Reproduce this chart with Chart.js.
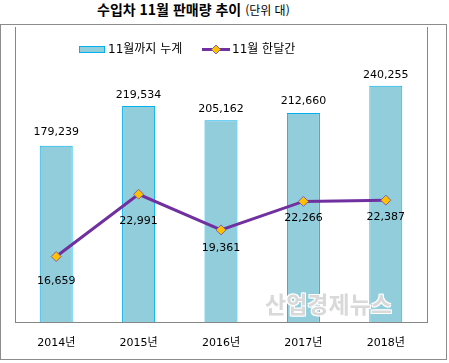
<!DOCTYPE html>
<html lang="ko">
<head>
    <meta charset="UTF-8">
    <title>수입차 11월 판매량 추이</title>
    <style>
        body {
            margin: 0;
            background: #fff;
            overflow: hidden;
            font-family: "Noto Sans CJK KR", sans-serif;
        }

        .wrap {
            position: relative;
            width: 449px;
            height: 363px;
        }

        .box {
            position: absolute;
            left: 0;
            top: 24px;
            width: 445px;
            height: 334px;
            border: 1px solid #8c8c8c;
        }

        .title {
            position: absolute;
            left: 97px;
            top: 1px;
            line-height: 16px;
            font-size: 14px;
            font-weight: bold;
            color: #000;
            white-space: nowrap;
        }

        .title span {
            font-size: 12px;
            font-weight: normal;
        }

        .chart-box {
            position: absolute;
            left: 0;
            top: 0;
            width: 449px;
            height: 363px;
        }

        .watermark {
            position: absolute;
            left: 265px;
            top: 292px;
            font-size: 23px;
            line-height: 23px;
            font-weight: bold;
            color: rgba(210, 210, 210, 0.85);
            text-shadow: 1px 1px 0 #fff, -1px -1px 0 #fff, 1px -1px 0 #fff, -1px 1px 0 #fff;
            white-space: nowrap;
        }
    </style>
</head>
<body>
    <div class="wrap">
        <div class="title">수입차 11월 판매량 추이 <span>(단위 대)</span></div>
        <div class="box"></div>
        <div class="chart-box">
            <canvas id="salesChart"></canvas>
        </div>
        <div class="watermark">산업경제뉴스</div>
    </div>

    <script src="https://cdn.jsdelivr.net/npm/chart.js"></script>
    <script>
        const years = ['2014년', '2015년', '2016년', '2017년', '2018년'];
        const cumulative = [179239, 219534, 205162, 212660, 240255];   // 11월까지 누계
        const november = [16659, 22991, 19361, 22266, 22387];          // 11월 한달간
        const seriesNames = ['11월까지 누계', '11월 한달간'];

        const barFill = '#92cddc';
        const barEdge = '#00b0f0';
        const lineColor = '#7030a0';
        const markerColor = '#ffc000';
        const axisColor = '#868686';
        const labelFont = '11px "DejaVu Sans", "Noto Sans CJK KR", sans-serif';
        const legendFont = '12px "DejaVu Sans", "Noto Sans CJK KR", sans-serif';

        const fmt = v => v.toLocaleString('en-US');

        // value labels above bars / below points
        const valueLabels = {
            id: 'valueLabels',
            afterDatasetsDraw(chart, args, opts) {
                const ctx = chart.ctx;
                ctx.save();
                ctx.font = labelFont;
                ctx.fillStyle = '#000';
                ctx.textAlign = 'center';
                ctx.textBaseline = 'middle';
                chart.data.datasets.forEach((ds, di) => {
                    const meta = chart.getDatasetMeta(di);
                    meta.data.forEach((el, i) => {
                        if (ds.type === 'bar') {
                            ctx.fillText(fmt(ds.data[i]), el.x, el.y - opts.barOffset[i]);
                        } else {
                            ctx.fillText(fmt(ds.data[i]), el.x, el.y + opts.lineOffset[i]);
                        }
                    });
                });
                ctx.restore();
            }
        };

        // legend sits inside the plot area, so draw it by hand
        const innerLegend = {
            id: 'innerLegend',
            afterDraw(chart) {
                const ctx = chart.ctx;
                ctx.save();
                ctx.fillStyle = barFill;
                ctx.fillRect(79, 46, 26, 7);
                ctx.strokeStyle = barEdge;
                ctx.lineWidth = 1;
                ctx.strokeRect(79.5, 46.5, 25, 6);

                ctx.strokeStyle = lineColor;
                ctx.lineWidth = 3;
                ctx.beginPath();
                ctx.moveTo(202, 49.5);
                ctx.lineTo(230, 49.5);
                ctx.stroke();

                ctx.fillStyle = markerColor;
                ctx.strokeStyle = '#8064a2';
                ctx.lineWidth = 1;
                ctx.beginPath();
                ctx.moveTo(216, 45);
                ctx.lineTo(220.5, 49.5);
                ctx.lineTo(216, 54);
                ctx.lineTo(211.5, 49.5);
                ctx.closePath();
                ctx.fill();
                ctx.stroke();

                ctx.font = legendFont;
                ctx.fillStyle = '#000';
                ctx.textBaseline = 'middle';
                ctx.fillText(seriesNames[0], 108, 50);
                ctx.fillText(seriesNames[1], 232, 50);
                ctx.restore();
            }
        };

        const ctx = document.getElementById('salesChart').getContext('2d');
        new Chart(ctx, {
            data: {
                labels: years,
                datasets: [
                    {
                        type: 'line',
                        label: seriesNames[1],
                        data: november,
                        yAxisID: 'y1',
                        order: 0,
                        borderColor: lineColor,
                        borderWidth: 3,
                        tension: 0,
                        pointStyle: 'rectRot',
                        pointRadius: 5,
                        pointBackgroundColor: markerColor,
                        pointBorderColor: '#8064a2',
                        pointBorderWidth: 1
                    },
                    {
                        type: 'bar',
                        label: seriesNames[0],
                        data: cumulative,
                        yAxisID: 'y',
                        order: 1,
                        backgroundColor: barFill,
                        borderColor: barEdge,
                        borderWidth: 1,
                        barPercentage: 0.4,
                        categoryPercentage: 1.0
                    }
                ]
            },
            options: {
                responsive: true,
                maintainAspectRatio: false,
                animation: false,
                layout: {
                    padding: { left: 15, right: 22, top: 27, bottom: 0 }
                },
                plugins: {
                    legend: { display: false },
                    tooltip: { enabled: false },
                    valueLabels: {
                        barOffset: [14, 11, 11, 12, 11],
                        lineOffset: [25, 27, 18, 17, 17]
                    }
                },
                scales: {
                    x: {
                        grid: { display: false, drawTicks: false },
                        border: { display: true, color: axisColor, width: 1 },
                        afterFit(scale) { scale.height = 41; },
                        ticks: {
                            color: '#000',
                            padding: 15,
                            maxRotation: 0,
                            font: { family: '"DejaVu Sans", "Noto Sans CJK KR", sans-serif', size: 11 }
                        }
                    },
                    y: {
                        position: 'left',
                        min: 0,
                        max: 300000,
                        grid: { display: false, drawTicks: false },
                        border: { display: true, color: axisColor, width: 1 },
                        ticks: { display: false }
                    },
                    y1: {
                        position: 'right',
                        min: 10000,
                        max: 40000,
                        grid: { display: false, drawTicks: false },
                        border: { display: true, color: axisColor, width: 1 },
                        ticks: { display: false }
                    }
                }
            },
            plugins: [valueLabels, innerLegend]
        });
    </script>
</body>
</html>
